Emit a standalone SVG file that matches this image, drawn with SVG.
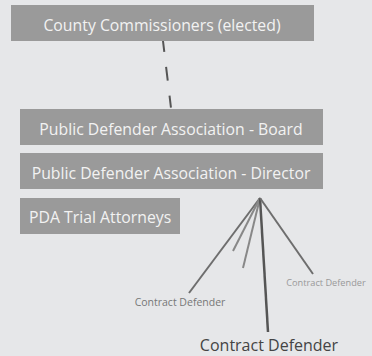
<svg xmlns="http://www.w3.org/2000/svg" width="372" height="356" viewBox="0 0 372 356">
<style>
.box{fill:#9a9a9a}
.bt{font-family:"Open Sans","Noto Sans",sans-serif;font-size:15.8px;fill:#f2f2f2}
.ln{stroke:#6e6e6e;stroke-width:2;fill:none}
.lab{font-family:"Open Sans","Noto Sans",sans-serif}
</style>
<rect width="372" height="356" fill="#e6e7e9"/>
<g id="connectors">
<line class="ln" x1="163" y1="41" x2="171" y2="108" stroke-dasharray="11,15,14,15,12" style="stroke:#555"/>
<line class="ln" x1="260" y1="198" x2="189" y2="293"/>
<line class="ln" x1="260" y1="198" x2="233" y2="251" style="stroke:#888"/>
<line class="ln" x1="260" y1="198" x2="243" y2="268" style="stroke:#888"/>
<line class="ln" x1="260" y1="198" x2="268" y2="332" style="stroke:#555;stroke-width:2.5"/>
<line class="ln" x1="260" y1="198" x2="313" y2="274"/>
</g>
<g id="county">
<rect class="box" x="11" y="5" width="303" height="36"/>
<text class="bt" x="162" y="31" text-anchor="middle">County Commissioners (elected)</text>
</g>
<g id="board">
<rect class="box" x="20" y="109" width="303" height="36"/>
<text class="bt" x="171" y="135" text-anchor="middle">Public Defender Association - Board</text>
</g>
<g id="director">
<rect class="box" x="20" y="153" width="303" height="36"/>
<text class="bt" x="171" y="179" text-anchor="middle">Public Defender Association - Director</text>
</g>
<g id="trial">
<rect class="box" x="20" y="198" width="160" height="36"/>
<text class="bt" x="29" y="223">PDA Trial Attorneys</text>
</g>
<g id="cd1">
<text class="lab" x="180" y="306" text-anchor="middle" font-size="10.5" fill="#777">Contract Defender</text>
</g>
<g id="cd2">
<text class="lab" x="326" y="286" text-anchor="middle" font-size="9.2" fill="#999">Contract Defender</text>
</g>
<g id="cd3">
<text class="lab" x="269" y="351" text-anchor="middle" font-size="16" fill="#444">Contract Defender</text>
</g>
</svg>
